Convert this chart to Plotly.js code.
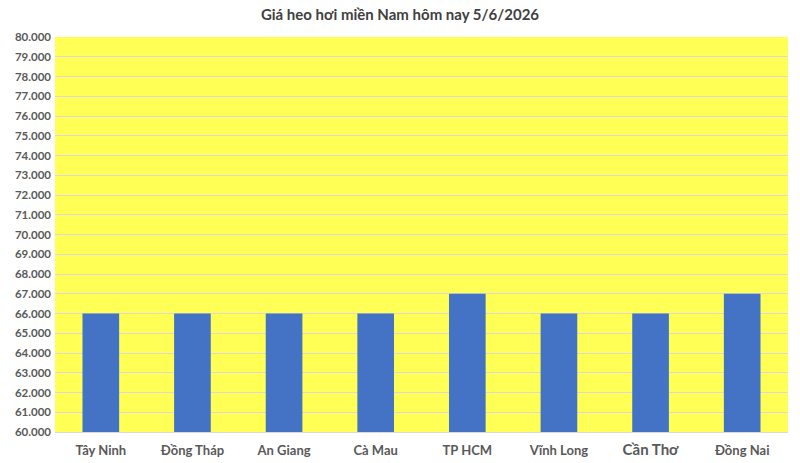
<!DOCTYPE html>
<html>
<head>
<meta charset="utf-8">
<script src="https://cdn.plot.ly/plotly-3.0.1.min.js"></script>
<style>
  html, body { margin: 0; padding: 0; background: #fff; }
  #chart { width: 800px; height: 463px; }
</style>
</head>
<body>
<div id="chart"></div>
<script>
const tinhThanh = ["Tây Ninh", "Đồng Tháp", "An Giang", "Cà Mau", "TP HCM", "Vĩnh Long", "Cần Thơ", "Đồng Nai"];
const giaHeo = [66000, 66000, 66000, 66000, 67000, 66000, 66000, 67000];
const mocTruc = [60000, 61000, 62000, 63000, 64000, 65000, 66000, 67000, 68000, 69000, 70000,
  71000, 72000, 73000, 74000, 75000, 76000, 77000, 78000, 79000, 80000];
const nhanTruc = mocTruc.map(v => (v / 1000).toFixed(3));

// nhãn "Cần Thơ" trong ảnh gốc to hơn một chút
const nhanTinh = tinhThanh.map(t => t === "Cần Thơ" ? '<span style="font-size:15px">' + t + '</span>' : t);

const data = [{
  type: 'bar',
  x: tinhThanh,
  y: giaHeo,
  marker: { color: '#4472c4' },
  hoverinfo: 'x+y'
}];

const layout = {
  width: 800,
  height: 463,
  paper_bgcolor: '#ffffff',
  plot_bgcolor: '#ffff55',
  font: { family: 'Lato, "Open Sans", sans-serif', color: '#595959' },
  title: {
    text: '<b>Giá heo hơi miền Nam hôm nay 5/6/2026</b>',
    font: { size: 15, color: '#404040' },
    x: 0.5, xanchor: 'center',
    y: 0.968, yanchor: 'middle'
  },
  margin: { l: 55, r: 12, t: 37, b: 31 },
  bargap: 0.6,
  showlegend: false,
  xaxis: {
    tickvals: tinhThanh,
    ticktext: nhanTinh.map(t => '<b>' + t + '</b>'),
    tickfont: { size: 13, color: '#595959' },
    showline: true,
    linecolor: '#d9d9d9',
    ticks: '',
    showgrid: false,
    ticklabelstandoff: 6
  },
  yaxis: {
    range: [60000, 80000],
    tickvals: mocTruc,
    ticktext: nhanTruc.map(t => '<b>' + t + '</b>'),
    tickfont: { size: 11.5, color: '#595959' },
    showgrid: true,
    gridcolor: '#d9d9d9',
    gridwidth: 1,
    zeroline: false,
    ticks: '',
    ticklabelstandoff: 3
  }
};

Plotly.newPlot('chart', data, layout, { displayModeBar: false, staticPlot: true });
</script>
</body>
</html>
